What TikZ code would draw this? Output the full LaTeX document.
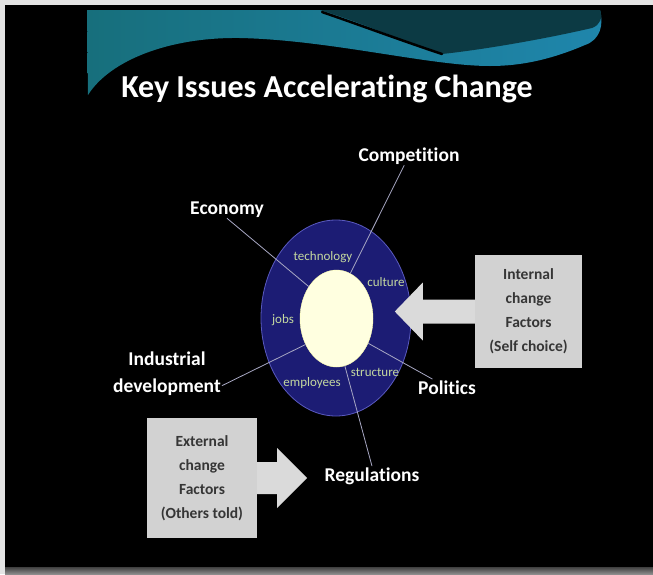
\documentclass[tikz,border=0pt]{standalone}
\usepackage{fontspec}
\setmainfont{Carlito}[Ligatures=NoCommon]
\usetikzlibrary{shapes.geometric}
\definecolor{pagegray}{HTML}{E4E4E4}
\definecolor{waveleft}{HTML}{176F7C}
\definecolor{waveright}{HTML}{1F86AC}
\definecolor{wavedark}{HTML}{0C3A44}
\definecolor{ringblue}{HTML}{1C1C74}
\definecolor{ringedge}{HTML}{5A5AC0}
\definecolor{coreyellow}{HTML}{FFFFE0}
\definecolor{spokegray}{HTML}{A8A8C4}
\definecolor{sectorgreen}{HTML}{C4D8A0}
\definecolor{boxgray}{HTML}{D2D2D2}
\definecolor{arrowgray}{HTML}{DADADA}
\definecolor{boxtext}{HTML}{363636}
\begin{document}
\begin{tikzpicture}[x=1pt,y=-1pt,
  factor/.style={text=white,font=\fontsize{19.5}{27}\selectfont\bfseries,inner sep=1pt},
  sector/.style={text=sectorgreen,font=\fontsize{13}{13}\selectfont,inner sep=0pt},
  spoke/.style={draw=spokegray,line width=0.8pt},
  greybox/.style={fill=boxgray,align=center,text=boxtext,font=\fontsize{15.5}{24}\selectfont\bfseries,inner sep=0pt},
  blockarrow/.style={fill=arrowgray}]
\useasboundingbox (0,0) rectangle (653,574);
\fill[pagegray] (0,0) rectangle (653,574);
\fill[black] (5,5) rectangle (653,567);
\fill[top color=black!75,bottom color=black!45] (5,567) rectangle (653,574);
\fill[left color=waveleft,right color=waveright] (87,10) -- (600,10) .. controls (604,25) and (600,40) .. (585,45) .. controls (550,60) and (520,66) .. (490,66) .. controls (430,66) and (330,40) .. (240,38) .. controls (170,37) and (110,60) .. (88,95) -- cycle;
\fill[wavedark] (320,10) -- (600,10) .. controls (603,18) and (600,25) .. (592,28) .. controls (540,40) and (480,50) .. (442,54) .. controls (400,40) and (360,22) .. (320,10) -- cycle;
\draw[black,line width=2.5pt,line cap=round] (322,12) .. controls (360,25) and (400,40) .. (442,54);
\node[text=white,font=\fontsize{32}{32}\selectfont\bfseries,anchor=base] (title) at (327,97) {Key Issues Accelerating Change};
\node[ellipse,fill=ringblue,draw=ringedge,line width=0.8pt,minimum width=150,minimum height=196,inner sep=0pt] (ring) at (336,318) {};
\node[ellipse,fill=coreyellow,draw=coreyellow!80!yellow,minimum width=73,minimum height=97,inner sep=0pt] (core) at (336.5,318.5) {};
\node[factor,anchor=base] (comp) at (409,161) {Competition};
\node[factor,anchor=base] (econ) at (227,214) {Economy};
\node[factor,align=center] (indus) at (167,374) {Industrial\\development};
\node[factor,anchor=base] (pol) at (447,394) {Politics};
\node[factor,anchor=base] (reg) at (372,481) {Regulations};
\draw[spoke] (comp) -- (core.73);
\draw[spoke] (econ.south) -- (core.131);
\draw[spoke] (indus.-12) -- (core.-140);
\draw[spoke] (pol) -- (core.-38);
\draw[spoke] (reg.north) -- (core.-80);
\node[sector] (tech) at (323,257) {technology};
\node[sector] (cult) at (386,282) {culture};
\node[sector] (jobs) at (283,320) {jobs};
\node[sector] (empl) at (312,383) {employees};
\node[sector] (struc) at (375,372) {structure};
\node[greybox,minimum width=107,minimum height=113] (intbox) at (528.5,311.5) {Internal\\change\\Factors\\(Self choice)};
\node[greybox,minimum width=110,minimum height=120] (extbox) at (202,478) {External\\change\\Factors\\(Others told)};
\fill[blockarrow] (intbox.west) ++(0,-12) -- ++(-52,0) -- ++(0,-17) -- ++(-28,29) -- ++(28,29) -- ++(0,-17) -- ++(52,0) -- cycle;
\fill[blockarrow] (extbox.east) ++(0,-16) -- ++(20,0) -- ++(0,-14) -- ++(30,30) -- ++(-30,30) -- ++(0,-14) -- ++(-20,0) -- cycle;
\end{tikzpicture}
\end{document}
